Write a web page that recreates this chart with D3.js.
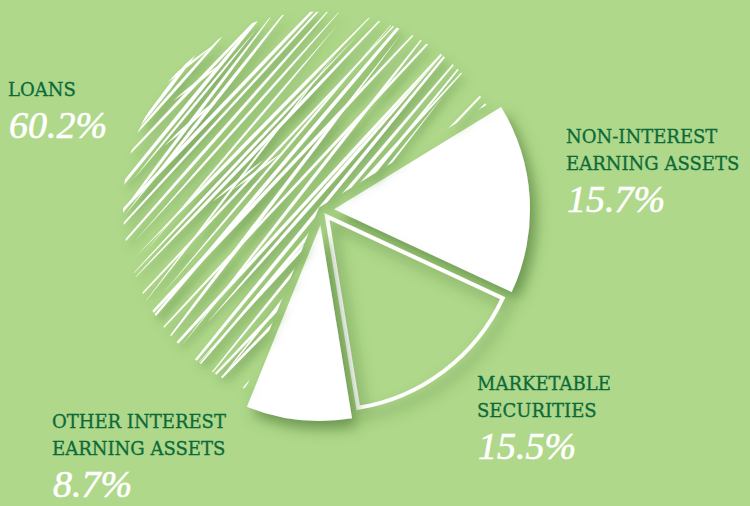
<!DOCTYPE html>
<html>
<head>
<meta charset="utf-8">
<script src="https://cdn.jsdelivr.net/npm/d3@7"></script>
<style>
  html, body { margin: 0; padding: 0; background: #afd88a; }
  svg { display: block; }
</style>
</head>
<body>
<div id="chart"></div>
<script>
// slices in drawing order (clockwise, starting at the non-interest slice)
var sliceNames = ["Non-interest earning assets", "Marketable securities", "Other interest earning assets", "Loans"];
var sliceValues = [15.7, 15.5, 8.7, 60.2];
var labelLines = [["NON-INTEREST", "EARNING ASSETS"], ["MARKETABLE", "SECURITIES"], ["OTHER INTEREST", "EARNING ASSETS"], ["LOANS"]];
var sliceStyles = ["solid", "outline", "solid", "hatch"];

var width = 750,
    height = 506,
    radius = 196,
    center = {x: 322, y: 210};

// layout only: where each label block starts and how far each slice is pulled out
var labelPos = [{x: 566, y: 143}, {x: 477, y: 390}, {x: 52, y: 428}, {x: 8, y: 96}];
var explode = [12, 8, 15, 4];

var green = "#afd88a",
    darkGreen = "#0c6a3a";

function translate(x, y) { return "translate(" + x + "," + y + ")"; }

var svg = d3.select("#chart")
    .append("svg")
        .attr("width", width)
        .attr("height", height);

svg.append("rect")
    .attr("width", width)
    .attr("height", height)
    .attr("fill", green);

var defs = svg.append("defs");
defs.append("filter")
        .attr("id", "shadow")
        .attr("x", "-30%").attr("y", "-30%")
        .attr("width", "160%").attr("height", "160%")
    .append("feDropShadow")
        .attr("dx", 6).attr("dy", 8)
        .attr("stdDeviation", 7)
        .attr("flood-color", "#3a6a27")
        .attr("flood-opacity", 0.6);
defs.append("filter")
        .attr("id", "lineShadow")
        .attr("x", "-30%").attr("y", "-30%")
        .attr("width", "160%").attr("height", "160%")
    .append("feDropShadow")
        .attr("dx", 4).attr("dy", 6)
        .attr("stdDeviation", 5)
        .attr("flood-color", "#42722e")
        .attr("flood-opacity", 0.6);

var pie = d3.pie()
    .sort(null)
    .startAngle(58.5 * Math.PI / 180)
    .endAngle(58.5 * Math.PI / 180 + 2 * Math.PI);

var arcs = pie(sliceValues);
var arc = d3.arc().innerRadius(0).outerRadius(radius);
var outlineArc = d3.arc().innerRadius(0).outerRadius(radius - 2);

// offset of each slice along its middle angle
function sliceOffset(d, i) {
    var mid = (d.startAngle + d.endAngle) / 2;
    return {x: center.x + Math.sin(mid) * explode[i], y: center.y - Math.cos(mid) * explode[i]};
}

var pieGroup = svg.append("g");

arcs.forEach(function(d, i) {
    var o = sliceOffset(d, i);
    var g = pieGroup.append("g").attr("transform", translate(o.x, o.y));

    if (sliceStyles[i] === "solid") {
        g.append("path")
            .attr("d", arc(d))
            .attr("fill", "#fff")
            .attr("filter", "url(#shadow)");
    } else if (sliceStyles[i] === "outline") {
        g.append("path")
            .attr("d", outlineArc(d))
            .attr("fill", "none")
            .attr("stroke", "#fff")
            .attr("stroke-width", 4)
            .attr("stroke-linejoin", "miter")
            .attr("filter", "url(#shadow)");
    } else {
        defs.append("clipPath")
            .attr("id", "loansClip")
          .append("path")
            .attr("d", arc(d));
        var hatch = g.append("g")
            .attr("filter", "url(#lineShadow)")
          .append("g")
            .attr("clip-path", "url(#loansClip)");
        drawScribble(hatch, radius);
    }
});

// white pen strokes filling the loans slice
function drawScribble(g, r) {
    var rnd = d3.randomLcg(0.4217);
    var strokes = [];
    var s = -r;
    while (s < r) {
        var ang = (49 + (rnd() - 0.5) * 8) * Math.PI / 180;
        var ux = Math.cos(ang), uy = -Math.sin(ang);
        var nx = -uy, ny = ux;
        var half = Math.sqrt(Math.max(r * r - s * s, 0));
        var along = (rnd() - 0.5) * half * 0.4;
        var len = half * (0.85 + rnd() * 0.9);
        var cx = nx * s + ux * along, cy = ny * s + uy * along;
        strokes.push({
            x0: cx - ux * len, y0: cy - uy * len,
            x1: cx + ux * len, y1: cy + uy * len,
            w: 2.2 + rnd() * 1.8
        });
        // an occasional shorter cross stroke at a flatter angle
        if (rnd() < 0.25) {
            var a2 = (36 + rnd() * 8) * Math.PI / 180;
            var vx = Math.cos(a2), vy = -Math.sin(a2);
            var l2 = 20 + rnd() * 45;
            strokes.push({
                x0: cx - vx * l2, y0: cy - vy * l2,
                x1: cx + vx * l2, y1: cy + vy * l2,
                w: 1.8 + rnd() * 1.4
            });
        }
        s += 4 + rnd() * 8;
    }

    g.selectAll("path.stroke")
        .data(strokes)
        .enter()
        .append("path")
            .attr("class", "stroke")
            .attr("fill", "#fff")
            .attr("d", function(p) {
                var mx = (p.x0 + p.x1) / 2, my = (p.y0 + p.y1) / 2;
                var dx = p.x1 - p.x0, dy = p.y1 - p.y0;
                var l = Math.sqrt(dx * dx + dy * dy);
                var px = -dy / l * p.w, py = dx / l * p.w;
                return "M" + p.x0 + "," + p.y0 +
                    "Q" + (mx + px) + "," + (my + py) + " " + p.x1 + "," + p.y1 +
                    "Q" + (mx - px) + "," + (my - py) + " " + p.x0 + "," + p.y0 + "Z";
            });
}

// Labels
var fmt = d3.format(".1f");
var labels = svg.append("g");
sliceValues.forEach(function(v, i) {
    var p = labelPos[i];
    var lines = labelLines[i];
    lines.forEach(function(t, j) {
        labels.append("text")
            .attr("x", p.x)
            .attr("y", p.y + j * 27)
            .attr("fill", darkGreen)
            .attr("font-family", "DejaVu Serif")
            .attr("font-size", 18)
            .attr("stroke", darkGreen)
            .attr("stroke-width", 0.3)
            .text(t);
    });
    labels.append("text")
        .attr("x", p.x + 1)
        .attr("y", p.y + (lines.length - 1) * 27 + 42)
        .attr("fill", "#fff")
        .attr("stroke", "#fff")
        .attr("stroke-width", 0.6)
        .attr("font-family", "Liberation Serif")
        .attr("font-style", "italic")
        .attr("font-size", 38)
        .text(fmt(v) + "%");
});
</script>
</body>
</html>
